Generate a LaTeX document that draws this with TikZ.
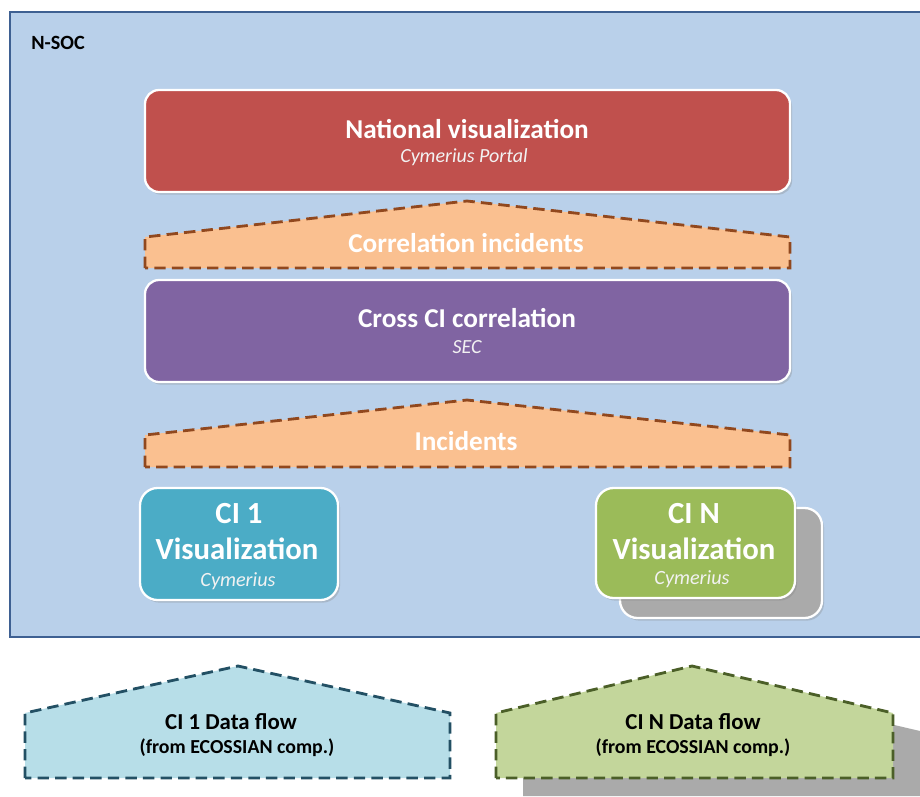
\documentclass[tikz,border=0pt]{standalone}
\usepackage{fontspec}
\setmainfont{Carlito}
\usetikzlibrary{shadows}
\definecolor{nsocfill}{RGB}{185,208,234}
\definecolor{nsocline}{RGB}{62,96,146}
\definecolor{natred}{RGB}{192,80,77}
\definecolor{secpurple}{RGB}{128,100,162}
\definecolor{incorange}{RGB}{250,192,144}
\definecolor{incbrown}{RGB}{145,72,30}
\definecolor{citeal}{RGB}{75,172,198}
\definecolor{cigreen}{RGB}{155,187,89}
\definecolor{flowblue}{RGB}{183,222,232}
\definecolor{flowblueline}{RGB}{35,80,100}
\definecolor{flowgreen}{RGB}{195,214,155}
\definecolor{flowgreenline}{RGB}{75,95,40}
\definecolor{shadowgray}{RGB}{170,170,170}

\begin{document}
\begin{tikzpicture}[x=0.02cm,y=-0.02cm]
\tikzstyle{box}=[draw=white,line width=1.3pt,rounded corners=8pt,
  drop shadow={opacity=0.3,shadow xshift=1.2pt,shadow yshift=-1.5pt}]
\tikzstyle{flow}=[line width=1.6pt,dash pattern=on 6.5pt off 3.5pt]
\tikzstyle{big}=[text=white,font=\bfseries\fontsize{15.5}{18}\selectfont]
\tikzstyle{huge}=[text=white,font=\bfseries\fontsize{17.5}{21}\selectfont]
\tikzstyle{sub}=[text=white!90!gray,font=\itshape\fontsize{11.4}{13}\selectfont]
\tikzstyle{small}=[text=white!90!gray,font=\itshape\fontsize{11.5}{13}\selectfont]
\tikzstyle{flowtxt}=[text=black,font=\bfseries\fontsize{13}{15}\selectfont]
\tikzstyle{flowsub}=[text=black,font=\bfseries\fontsize{11.3}{13}\selectfont]
\useasboundingbox (0,0) rectangle (920,796);
\fill[white] (0,0) rectangle (920,796);
% N-SOC frame
\draw[fill=nsocfill,draw=nsocline,line width=1.5pt] (10,12) rectangle (930,637);
\node[font=\bfseries\fontsize{11.5}{13}\selectfont] (nsoc) at (58,43) {N-SOC};
% national level
\draw[box,fill=natred] (145,90) rectangle (790,192);
\node[big] (natvis) at (467,129) {National visualization};
\node[sub] (portal) at (464,157) {Cymerius Portal};
\draw[flow,draw=incbrown,fill=incorange] (145,268) -- (145,237) -- (467,201) -- (790,237) -- (790,268) -- cycle;
\node[big] (corrinc) at (466,243) {Correlation incidents};
\draw[box,fill=secpurple] (145,280) rectangle (790,382);
\node[big] (cross) at (467,318) {Cross CI correlation};
\node[sub] (sec) at (467,347) {SEC};
\draw[flow,draw=incbrown,fill=incorange] (145,467) -- (145,435) -- (467,400) -- (790,435) -- (790,467) -- cycle;
\node[big] (inc) at (466,441) {Incidents};
% CI level
\draw[box,fill=citeal,rounded corners=10pt] (140,488) rectangle (338,600);
\node[huge] (ci1) at (239,514) {CI 1};
\node[huge] (ci1vis) at (237,549) {Visualization};
\node[small] (ci1cym) at (238,581) {Cymerius};
\draw[box,fill=shadowgray,rounded corners=10pt] (620,508) rectangle (822,618);
\draw[box,fill=cigreen,rounded corners=10pt] (596,488) rectangle (795,598);
\node[huge] (cin) at (694,514) {CI N};
\node[huge] (cinvis) at (694,549) {Visualization};
\node[small] (cincym) at (692,579) {Cymerius};
% data flows
\fill[shadowgray] (523,796) -- (523,731) -- (719,684) -- (920,731) -- (920,796) -- cycle;
\draw[flow,draw=flowblueline,fill=flowblue] (25,778) -- (25,713) -- (238,666) -- (450,713) -- (450,778) -- cycle;
\node[flowtxt] (df1) at (231,722) {CI 1 Data flow};
\node[flowsub] (df1sub) at (237,748) {(from ECOSSIAN comp.)};
\draw[flow,draw=flowgreenline,fill=flowgreen] (496,778) -- (496,713) -- (692,666) -- (893,713) -- (893,778) -- cycle;
\node[flowtxt] (dfn) at (693,722) {CI N Data flow};
\node[flowsub] (dfnsub) at (693,748) {(from ECOSSIAN comp.)};
\end{tikzpicture}
\end{document}
